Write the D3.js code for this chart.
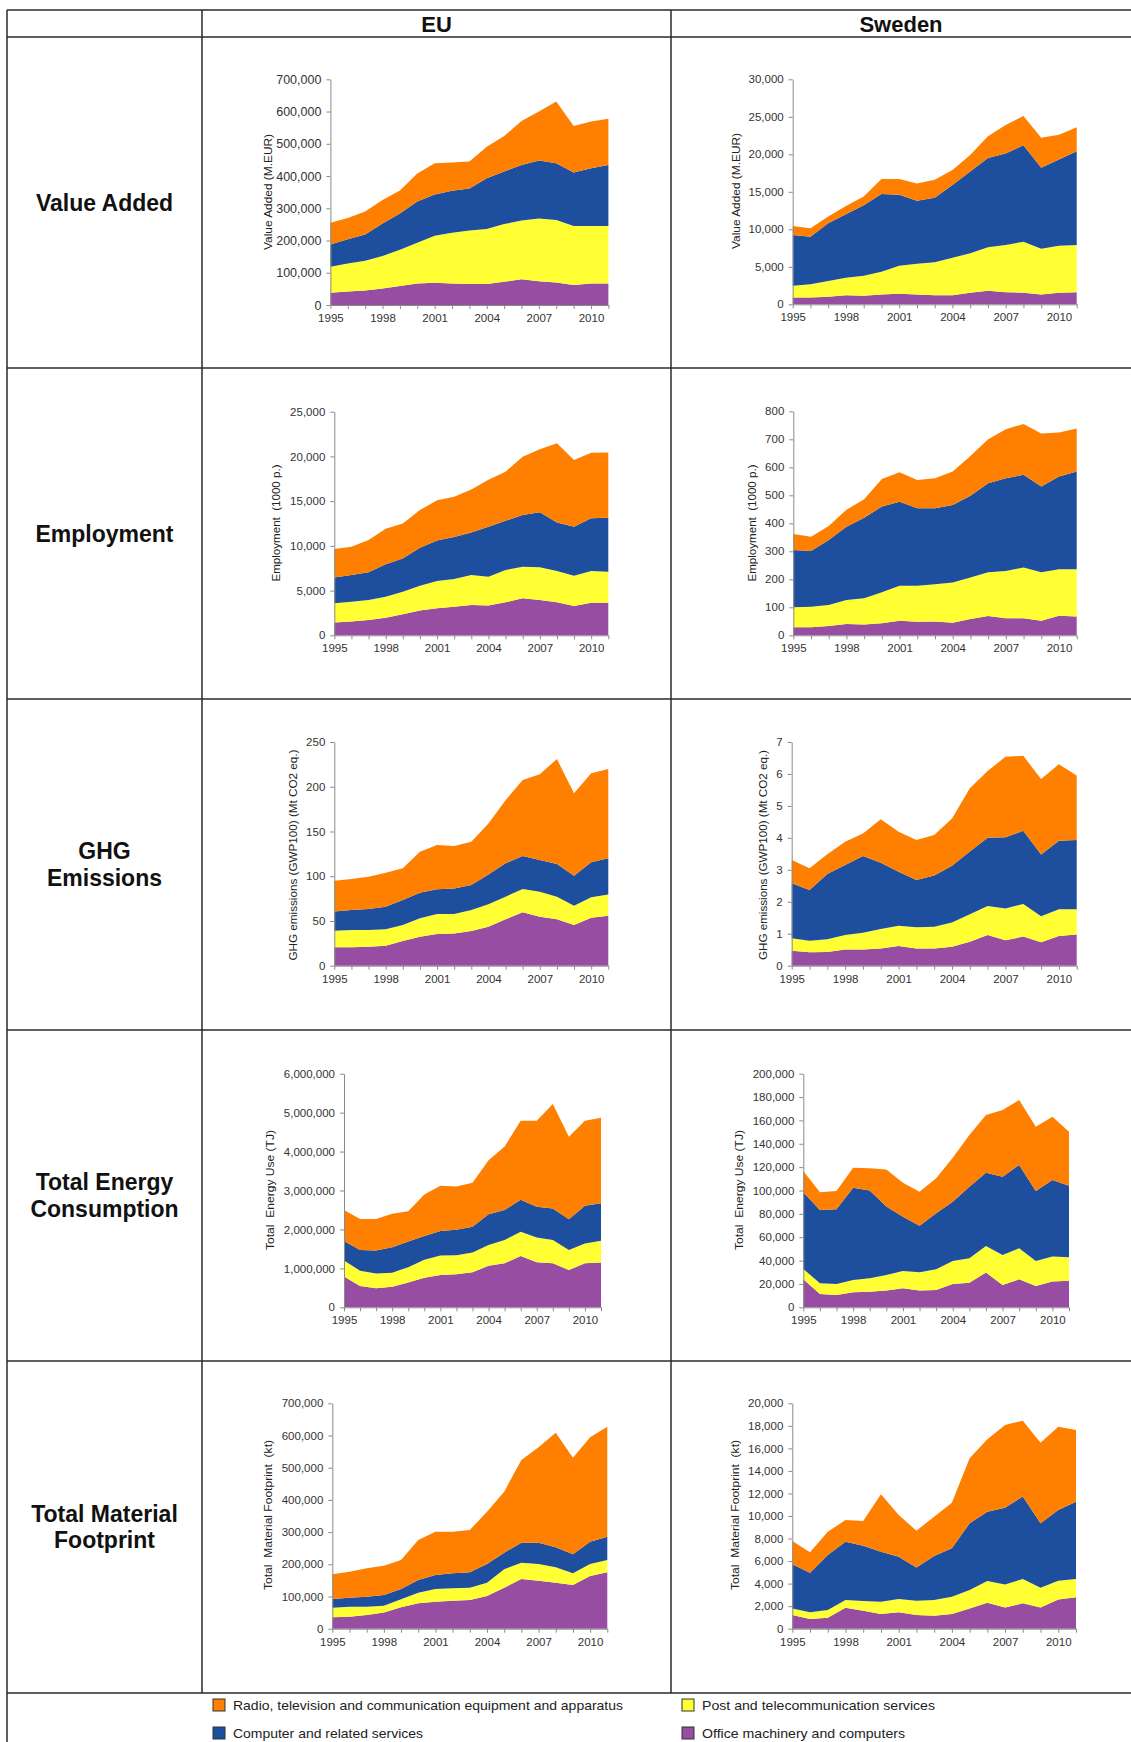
<!DOCTYPE html>
<html>
<head>
<meta charset="utf-8">
<script src="https://cdn.jsdelivr.net/npm/d3@7"></script>
<style>
  html, body { margin: 0; padding: 0; background: #fff; }
  svg { display: block; font-family: "Liberation Sans", Arial, Helvetica, sans-serif; }
</style>
</head>
<body>
<svg id="chart" width="1131" height="1742"></svg>
<script>
// ---- categories ----
const years = [1995, 1996, 1997, 1998, 1999, 2000, 2001, 2002, 2003, 2004, 2005, 2006, 2007, 2008, 2009, 2010, 2011];
const yearLabels = [1995, 1998, 2001, 2004, 2007, 2010];
const seriesKeys = ["office", "post", "computer", "radio"];   // stacking order, bottom to top
const seriesNames = {
  radio: "Radio, television and communication equipment and apparatus",
  post: "Post and telecommunication services",
  computer: "Computer and related services",
  office: "Office machinery and computers"
};
const seriesColors = { radio: "#FF8000", post: "#FFFF33", computer: "#1D4F9E", office: "#974DA2" };

const columnHeaders = ["EU", "Sweden"];
const rowLabels = [["Value Added"], ["Employment"], ["GHG", "Emissions"], ["Total Energy", "Consumption"], ["Total Material", "Footprint"]];

// ---- Value added (M.EUR) ----
const euVA_office   = [38000, 42000, 45000, 51000, 59000, 67000, 69000, 67000, 65000, 65000, 72000, 80000, 74000, 70000, 62000, 67000, 67000];
const euVA_post     = [81000, 87000, 92000, 101000, 112000, 126000, 146000, 157000, 166000, 171000, 179000, 182000, 194000, 194000, 183000, 178000, 178000];
const euVA_computer = [69000, 75000, 82000, 101000, 113000, 128000, 128000, 130000, 130000, 157000, 163000, 172000, 180000, 176000, 166000, 179000, 189000];
const euVA_radio    = [67000, 66000, 71000, 73000, 71000, 87000, 97000, 88000, 84000, 98000, 110000, 137000, 152000, 191000, 144000, 145000, 144000];

const seVA_office   = [900, 900, 1000, 1200, 1150, 1300, 1400, 1300, 1200, 1200, 1550, 1800, 1600, 1550, 1300, 1550, 1600];
const seVA_post     = [1590, 1770, 2100, 2350, 2650, 3050, 3750, 4100, 4400, 5000, 5250, 5800, 6300, 6800, 6100, 6250, 6300];
const seVA_computer = [6750, 6350, 7700, 8450, 9400, 10350, 9450, 8400, 8600, 9700, 10900, 11900, 12200, 12850, 10800, 11500, 12500];
const seVA_radio    = [1200, 1110, 900, 1100, 1160, 2000, 2100, 2300, 2400, 2000, 2200, 2900, 3800, 3900, 4000, 3300, 3200];

// ---- Employment (1000 p.) ----
const euEMP_office   = [1420, 1530, 1710, 1970, 2350, 2760, 3020, 3200, 3390, 3320, 3690, 4140, 3950, 3690, 3280, 3650, 3650];
const euEMP_post     = [2160, 2230, 2240, 2350, 2530, 2790, 3050, 3100, 3350, 3240, 3610, 3530, 3650, 3510, 3390, 3550, 3450];
const euEMP_computer = [2870, 2980, 3090, 3620, 3720, 4250, 4530, 4700, 4760, 5590, 5500, 5780, 6150, 5400, 5480, 5900, 6050];
const euEMP_radio    = [3200, 3160, 3610, 3960, 3900, 4200, 4500, 4500, 4800, 5250, 5500, 6520, 7050, 8860, 7450, 7300, 7300];

const seEMP_office   = [29, 29, 33, 40, 39, 43, 52, 48, 49, 45, 58, 69, 61, 61, 52, 70, 67];
const seEMP_post     = [71, 73, 75, 86, 93, 111, 125, 129, 133, 144, 148, 156, 169, 181, 173, 166, 169];
const seEMP_computer = [205, 199, 232, 262, 288, 306, 300, 277, 272, 276, 292, 318, 331, 331, 306, 331, 349];
const seEMP_radio    = [57, 51, 50, 60, 66, 98, 105, 101, 107, 120, 142, 157, 175, 182, 190, 157, 154];

// ---- GHG emissions (Mt CO2 eq.) ----
const euGHG_office   = [20.5, 20.5, 21.2, 22.4, 27.6, 32.4, 35.4, 36.1, 38.7, 43.6, 51.8, 59.6, 54.8, 51.8, 45.5, 53.7, 55.9];
const euGHG_post     = [18.6, 19.4, 18.7, 18.2, 17.9, 20.5, 22.3, 21.6, 23.5, 25.0, 25.3, 26.1, 27.9, 25.3, 21.6, 22.7, 23.8];
const euGHG_computer = [21.6, 22.3, 23.4, 25.4, 27.9, 28.7, 27.6, 28.7, 28.0, 33.4, 37.3, 36.9, 35.3, 36.5, 33.5, 39.1, 40.3];
const euGHG_radio    = [34.3, 34.7, 36.2, 38.0, 35.4, 45.8, 49.6, 47.4, 48.4, 57.0, 70.6, 84.9, 96.0, 117.4, 92.0, 99.5, 99.8];

const seGHG_office   = [0.47, 0.42, 0.43, 0.51, 0.51, 0.54, 0.62, 0.54, 0.54, 0.59, 0.75, 0.96, 0.80, 0.91, 0.73, 0.93, 0.98];
const seGHG_post     = [0.39, 0.36, 0.40, 0.45, 0.52, 0.61, 0.63, 0.66, 0.68, 0.76, 0.86, 0.91, 0.99, 1.02, 0.82, 0.84, 0.79];
const seGHG_computer = [1.72, 1.59, 2.04, 2.19, 2.40, 2.07, 1.69, 1.48, 1.60, 1.78, 1.96, 2.13, 2.23, 2.29, 1.93, 2.14, 2.16];
const seGHG_radio    = [0.73, 0.68, 0.62, 0.73, 0.71, 1.36, 1.25, 1.25, 1.27, 1.48, 1.98, 2.09, 2.52, 2.35, 2.36, 2.39, 2.02];

// ---- Total energy use (TJ) ----
const euEN_office   = [790000, 550000, 490000, 530000, 640000, 760000, 830000, 850000, 900000, 1070000, 1130000, 1320000, 1160000, 1130000, 960000, 1130000, 1150000];
const euEN_post     = [410000, 390000, 380000, 360000, 390000, 460000, 500000, 490000, 510000, 530000, 600000, 620000, 630000, 600000, 510000, 510000, 560000];
const euEN_computer = [500000, 530000, 590000, 650000, 660000, 610000, 630000, 650000, 660000, 790000, 770000, 820000, 790000, 810000, 790000, 970000, 960000];
const euEN_radio    = [800000, 800000, 810000, 860000, 780000, 1070000, 1160000, 1110000, 1130000, 1390000, 1630000, 2030000, 2210000, 2680000, 2120000, 2180000, 2200000];

const seEN_office   = [24000, 11400, 10600, 12800, 13400, 14300, 16300, 14300, 14800, 20000, 21100, 29700, 19100, 24000, 18300, 22000, 22800];
const seEN_post     = [8800, 9100, 9400, 10600, 11400, 13400, 14800, 15700, 17700, 19700, 20800, 22800, 25700, 26500, 21400, 21400, 20000];
const seEN_computer = [65600, 62800, 63900, 79000, 75100, 58500, 46500, 39900, 48000, 50700, 61400, 62800, 67000, 71300, 59900, 65600, 61300];
const seEN_radio    = [18300, 15100, 15700, 17100, 19100, 31800, 29100, 29100, 29900, 37600, 44200, 49300, 57200, 55700, 55000, 54200, 46300];

// ---- Total material footprint (kt) ----
const euMAT_office   = [35200, 37300, 42500, 50700, 66300, 78700, 83900, 87000, 89100, 101500, 127400, 154300, 149100, 142900, 135700, 163600, 175000];
const euMAT_post     = [30000, 31000, 25800, 20700, 24800, 33100, 39300, 38300, 38300, 41400, 56900, 50700, 51800, 47600, 36200, 37300, 38300];
const euMAT_computer = [27000, 28000, 31100, 33200, 32100, 39400, 43500, 46600, 47600, 58000, 51800, 62200, 66300, 62200, 59000, 69400, 72500];
const euMAT_radio    = [76600, 80700, 88000, 91100, 90100, 124200, 134600, 129400, 131500, 162600, 189500, 256800, 296100, 356200, 300300, 324100, 341700];

const seMAT_office   = [1210, 860, 980, 1860, 1600, 1300, 1450, 1210, 1150, 1300, 1800, 2310, 1890, 2250, 1890, 2600, 2780];
const seMAT_post     = [590, 590, 680, 680, 860, 1100, 1180, 1280, 1390, 1540, 1630, 1920, 2040, 2160, 1750, 1660, 1630];
const seMAT_computer = [3910, 3520, 4880, 5180, 4910, 4430, 3760, 2950, 3910, 4290, 5920, 6150, 6810, 7310, 5710, 6270, 6860];
const seMAT_radio    = [2070, 1810, 2070, 1920, 2190, 5090, 3700, 3260, 3490, 4050, 5770, 6420, 7340, 6740, 7160, 7400, 6360];

// ---- value-axis tick labels ----
const euVA_ticks  = [0, 100000, 200000, 300000, 400000, 500000, 600000, 700000];
const seVA_ticks  = [0, 5000, 10000, 15000, 20000, 25000, 30000];
const euEMP_ticks = [0, 5000, 10000, 15000, 20000, 25000];
const seEMP_ticks = [0, 100, 200, 300, 400, 500, 600, 700, 800];
const euGHG_ticks = [0, 50, 100, 150, 200, 250];
const seGHG_ticks = [0, 1, 2, 3, 4, 5, 6, 7];
const euEN_ticks  = [0, 1000000, 2000000, 3000000, 4000000, 5000000, 6000000];
const seEN_ticks  = [0, 20000, 40000, 60000, 80000, 100000, 120000, 140000, 160000, 180000, 200000];
const euMAT_ticks = [0, 100000, 200000, 300000, 400000, 500000, 600000, 700000];
const seMAT_ticks = [0, 2000, 4000, 6000, 8000, 10000, 12000, 14000, 16000, 18000, 20000];

// ---- axis titles ----
const titleVA  = "Value Added (M.EUR)";
const titleEMP = "Employment  (1000 p.)";
const titleGHG = "GHG emissions (GWP100) (Mt CO2 eq.)";
const titleEN  = "Total  Energy Use (TJ)";
const titleMAT = "Total  Material Footprint  (kt)";

// ---- panel layout: plot box (left, right, bottom, top), axis title placement ----
const panels = [
  { s: [euVA_office, euVA_post, euVA_computer, euVA_radio], ticks: euVA_ticks, title: titleVA,
    L: 330.4, R: 608.4, B: 305, T: 79.3, tx: 268, ty: 192, tlen: 116, tfs: 12.5 },
  { s: [seVA_office, seVA_post, seVA_computer, seVA_radio], ticks: seVA_ticks, title: titleVA,
    L: 792.7, R: 1076.7, B: 304.3, T: 79.3, tx: 736, ty: 191, tlen: 116, tfs: 11.5 },
  { s: [euEMP_office, euEMP_post, euEMP_computer, euEMP_radio], ticks: euEMP_ticks, title: titleEMP,
    L: 334.3, R: 608.3, B: 635.3, T: 411.7, tx: 276, ty: 523, tlen: 117, tfs: 11.5 },
  { s: [seEMP_office, seEMP_post, seEMP_computer, seEMP_radio], ticks: seEMP_ticks, title: titleEMP,
    L: 793.3, R: 1076.7, B: 635.3, T: 411.3, tx: 751.7, ty: 523, tlen: 117, tfs: 11.5 },
  { s: [euGHG_office, euGHG_post, euGHG_computer, euGHG_radio], ticks: euGHG_ticks, title: titleGHG,
    L: 334.3, R: 608.3, B: 965.7, T: 742, tx: 292.7, ty: 855, tlen: 211, tfs: 11.5 },
  { s: [seGHG_office, seGHG_post, seGHG_computer, seGHG_radio], ticks: seGHG_ticks, title: titleGHG,
    L: 791.7, R: 1076.7, B: 965.7, T: 742, tx: 763.3, ty: 855, tlen: 210, tfs: 11.5 },
  { s: [euEN_office, euEN_post, euEN_computer, euEN_radio], ticks: euEN_ticks, title: titleEN,
    L: 344, R: 601, B: 1307.3, T: 1073.7, tx: 270, ty: 1190, tlen: 120, tfs: 11.5 },
  { s: [seEN_office, seEN_post, seEN_computer, seEN_radio], ticks: seEN_ticks, title: titleEN,
    L: 803.3, R: 1069, B: 1307.3, T: 1073.7, tx: 739.3, ty: 1190, tlen: 120, tfs: 11.5 },
  { s: [euMAT_office, euMAT_post, euMAT_computer, euMAT_radio], ticks: euMAT_ticks, title: titleMAT,
    L: 332.3, R: 607.3, B: 1628.7, T: 1403.3, tx: 268.3, ty: 1515, tlen: 150, tfs: 11.5 },
  { s: [seMAT_office, seMAT_post, seMAT_computer, seMAT_radio], ticks: seMAT_ticks, title: titleMAT,
    L: 792.3, R: 1076, B: 1628.7, T: 1403.3, tx: 735, ty: 1515, tlen: 150, tfs: 11.5 }
];

const svg = d3.select("#chart");
const W = 1131, H = 1742;

// ---- table grid ----
const gridX = [7, 202, 671];
const gridY = [10, 37, 368, 699, 1030, 1361, 1693];
const grid = svg.append("g").attr("stroke", "#2a2a2a").attr("stroke-width", 1.5);
gridY.forEach(y => grid.append("line").attr("x1", gridX[0]).attr("x2", W).attr("y1", y).attr("y2", y));
grid.append("line").attr("x1", gridX[0]).attr("x2", gridX[0]).attr("y1", gridY[0]).attr("y2", H);
gridX.slice(1).forEach(x => grid.append("line").attr("x1", x).attr("x2", x).attr("y1", gridY[0]).attr("y2", gridY[gridY.length - 1]));

// column headers
columnHeaders.forEach((h, i) => {
  svg.append("text")
    .attr("x", (gridX[i + 1] + (i + 2 < gridX.length ? gridX[i + 2] : W)) / 2)
    .attr("y", (gridY[0] + gridY[1]) / 2 + 0.5)
    .attr("text-anchor", "middle").attr("dominant-baseline", "central")
    .attr("font-weight", "bold").attr("font-size", 22).attr("fill", "#111")
    .text(h);
});

// row labels
rowLabels.forEach((lines, i) => {
  const cy = (gridY[i + 1] + gridY[i + 2]) / 2;
  const cx = (gridX[0] + gridX[1]) / 2;
  const step = 26.5;
  lines.forEach((ln, j) => {
    svg.append("text")
      .attr("x", cx)
      .attr("y", cy + (j - (lines.length - 1) / 2) * step)
      .attr("text-anchor", "middle").attr("dominant-baseline", "central")
      .attr("font-weight", "bold").attr("font-size", 23).attr("fill", "#111")
      .text(ln);
  });
});

// ---- stacked area panels ----
const stack = d3.stack().keys(seriesKeys);
const axisColor = "#8a8a8a";
const labelColor = "#333";

panels.forEach(p => {
  const table = years.map((yr, i) => {
    const row = { year: yr };
    seriesKeys.forEach((k, j) => { row[k] = p.s[j][i]; });
    return row;
  });
  const layers = stack(table);

  const x = d3.scalePoint().domain(years).range([p.L, p.R]);
  const y = d3.scaleLinear().domain([0, d3.max(p.ticks)]).range([p.B, p.T]);

  const area = d3.area()
    .x(d => x(d.data.year))
    .y0(d => y(d[0]))
    .y1(d => y(d[1]));

  const g = svg.append("g");
  g.selectAll("path.layer").data(layers).join("path")
    .attr("class", "layer")
    .attr("fill", d => seriesColors[d.key])
    .attr("d", area);

  // value axis
  const ya = g.append("g").attr("transform", `translate(${p.L},0)`)
    .call(d3.axisLeft(y).tickValues(p.ticks).tickFormat(d3.format(",")).tickSize(4).tickSizeOuter(0).tickPadding(5));
  ya.select(".domain").attr("stroke", axisColor);
  ya.selectAll(".tick line").attr("stroke", axisColor);
  ya.selectAll(".tick text").attr("fill", labelColor).attr("font-size", p.tfs)
    .attr("font-family", "'Liberation Sans', Arial, sans-serif");

  // category axis
  const xa = g.append("g").attr("transform", `translate(0,${p.B})`)
    .call(d3.axisBottom(x).tickValues(years).tickSize(4).tickSizeOuter(0).tickPadding(5)
      .tickFormat(d => yearLabels.includes(d) ? String(d) : ""));
  xa.select(".domain").attr("stroke", axisColor);
  xa.selectAll(".tick line").attr("stroke", axisColor);
  xa.selectAll(".tick text").attr("fill", labelColor).attr("font-size", 11.5)
    .attr("font-family", "'Liberation Sans', Arial, sans-serif");

  // axis title
  g.append("text")
    .attr("transform", `translate(${p.tx},${p.ty}) rotate(-90)`)
    .attr("text-anchor", "middle").attr("dominant-baseline", "central")
    .attr("font-size", 11.5).attr("fill", "#222")
    .attr("textLength", p.tlen).attr("lengthAdjust", "spacingAndGlyphs")
    .style("white-space", "pre")
    .text(p.title);
});

// ---- legend ----
const legendItems = [
  { key: "radio",    x: 213, y: 1705, len: 390 },
  { key: "post",     x: 682, y: 1705, len: 233 },
  { key: "computer", x: 213, y: 1733, len: 190 },
  { key: "office",   x: 682, y: 1733, len: 203 }
];
const lg = svg.append("g");
legendItems.forEach(it => {
  lg.append("rect")
    .attr("x", it.x).attr("y", it.y - 6).attr("width", 12).attr("height", 12)
    .attr("fill", seriesColors[it.key]).attr("stroke", "#333").attr("stroke-width", 1);
  lg.append("text")
    .attr("x", it.x + 20).attr("y", it.y)
    .attr("dominant-baseline", "central")
    .attr("font-family", "'Liberation Sans Narrow', 'Liberation Sans', Arial, sans-serif")
    .attr("font-size", 13.5).attr("fill", "#222")
    .attr("textLength", it.len).attr("lengthAdjust", "spacingAndGlyphs")
    .text(seriesNames[it.key]);
});
</script>
</body>
</html>
